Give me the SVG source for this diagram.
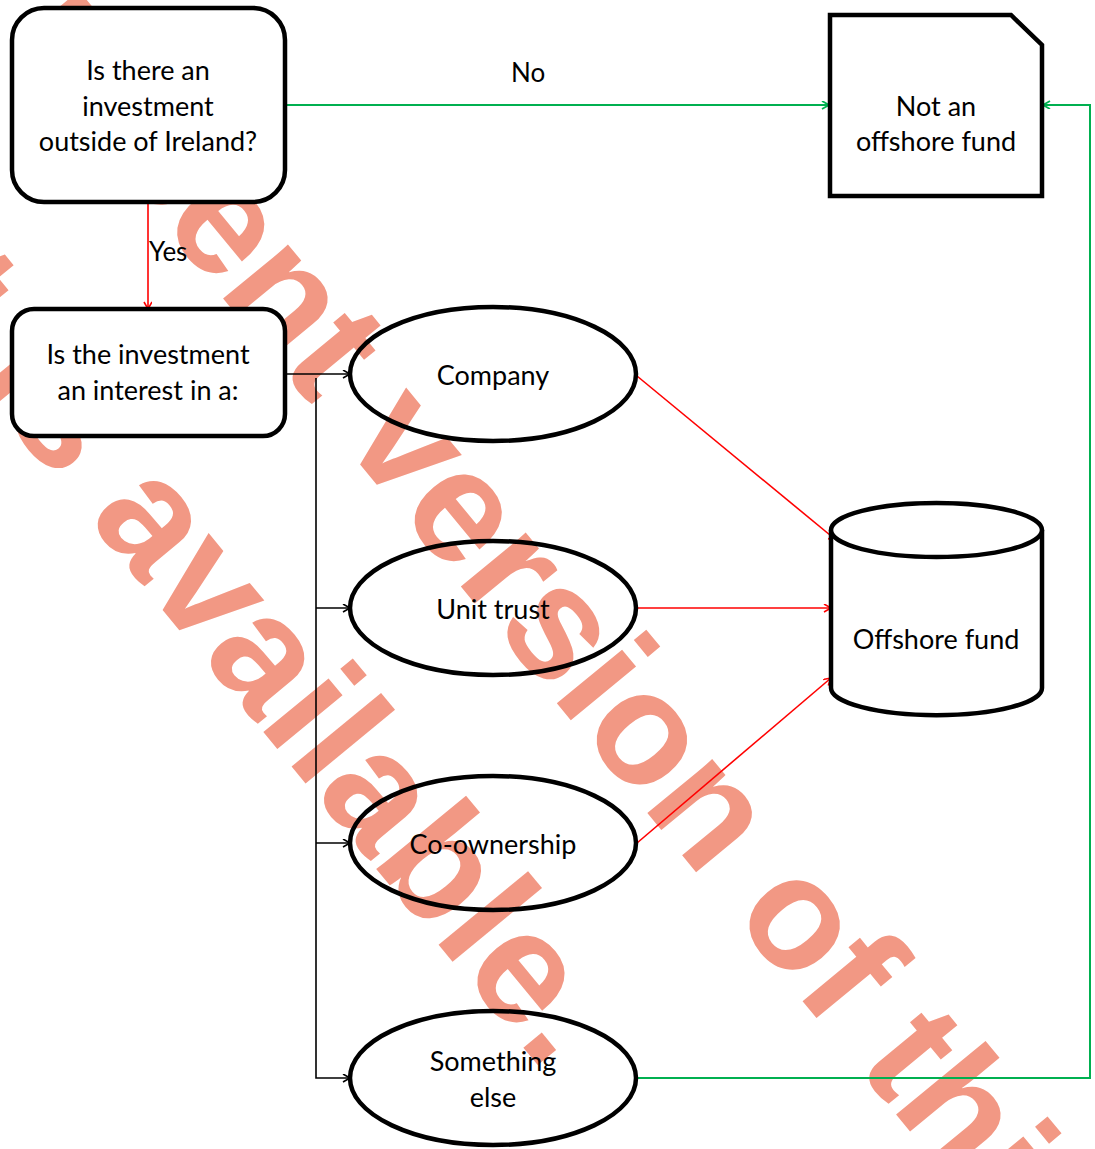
<svg xmlns="http://www.w3.org/2000/svg" width="1095" height="1149" viewBox="0 0 1095 1149">
<style>
.wm{font-family:"Liberation Sans",Arial,sans-serif;font-weight:bold;font-size:160px;fill:#f29884}
.box{fill:#fff;stroke:#000;stroke-width:4.5}
.ell{fill:none;stroke:#000;stroke-width:4.5}
.t{font-family:Lato,"Open Sans",sans-serif;font-size:27px;fill:#000;text-anchor:middle}
.lbl{font-family:Lato,"Open Sans",sans-serif;font-size:26px;fill:#000}
.g{fill:none;stroke:#00b050;stroke-width:2}
.r{fill:none;stroke:#ff0000;stroke-width:1.6}
.k{fill:none;stroke:#000;stroke-width:1.6}
</style>
<defs>
<marker id="ag" markerWidth="10" markerHeight="10" refX="8" refY="4" orient="auto" markerUnits="userSpaceOnUse"><path d="M1,0 L8,4 L1,8" fill="none" stroke="#00b050" stroke-width="1.8"/></marker>
<marker id="ar" markerWidth="10" markerHeight="10" refX="8" refY="4" orient="auto" markerUnits="userSpaceOnUse"><path d="M1,0 L8,4 L1,8" fill="none" stroke="#ff0000" stroke-width="1.6"/></marker>
<marker id="ak" markerWidth="10" markerHeight="10" refX="8" refY="4" orient="auto" markerUnits="userSpaceOnUse"><path d="M1,0 L8,4 L1,8" fill="none" stroke="#000" stroke-width="1.6"/></marker>
</defs>
<g id="watermark">
<g transform="translate(405,453) rotate(50.5)"><text class="wm" x="-1165" y="42">A more recent version of this</text></g>
<g transform="translate(147,525) rotate(50.5)"><text class="wm" x="-1031" y="42">document is available.</text></g>
</g>
<g id="connectors">
<path class="g" d="M285,105 H829" marker-end="url(#ag)"/>
<text class="lbl" x="511" y="82">No</text>
<path class="r" d="M148,202 V309" marker-end="url(#ar)"/>
<text class="lbl" x="149" y="261">Yes</text>
<path class="k" d="M285,374 H350" marker-end="url(#ak)"/>
<path class="k" d="M316,378 V1078 H350" marker-end="url(#ak)"/>
<path class="k" d="M316,608 H350" marker-end="url(#ak)"/>
<path class="k" d="M316,843 H350" marker-end="url(#ak)"/>
<path class="r" d="M637,376 L836,540" marker-end="url(#ar)"/>
<path class="r" d="M637,608 H831" marker-end="url(#ar)"/>
<path class="r" d="M637,843 L831,678" marker-end="url(#ar)"/>
<path class="g" d="M637,1078 H1090 V105 H1043" marker-end="url(#ag)"/>
</g>
<g id="q1">
<rect class="box" x="12" y="8" width="273" height="194" rx="32"/>
<text class="t" x="148" y="80">Is there an</text>
<text class="t" x="148" y="116">investment</text>
<text class="t" x="148" y="151">outside of Ireland?</text>
</g>
<g id="q2">
<rect class="box" x="12" y="309" width="273" height="127" rx="22"/>
<text class="t" x="148" y="364">Is the investment</text>
<text class="t" x="148" y="400">an interest in a:</text>
</g>
<g id="not-offshore">
<path class="box" d="M830,15 H1011 L1042,45 V196 H830 Z"/>
<text class="t" x="936" y="116">Not an</text>
<text class="t" x="936" y="151">offshore fund</text>
</g>
<g id="offshore">
<path class="box" d="M831,530 V688 A105,27 0 0 0 1042,688 V530"/>
<ellipse class="box" cx="936.5" cy="530" rx="105.5" ry="27"/>
<text class="t" x="936" y="649">Offshore fund</text>
</g>
<g id="company">
<ellipse class="ell" cx="493" cy="374" rx="143" ry="67"/>
<text class="t" x="493" y="385">Company</text>
</g>
<g id="unit-trust">
<ellipse class="ell" cx="493" cy="608" rx="143" ry="67"/>
<text class="t" x="493" y="619">Unit trust</text>
</g>
<g id="co-ownership">
<ellipse class="ell" cx="493" cy="843" rx="143" ry="67"/>
<text class="t" x="493" y="854">Co-ownership</text>
</g>
<g id="something-else">
<ellipse class="ell" cx="493" cy="1078" rx="143" ry="67"/>
<text class="t" x="493" y="1071">Something</text>
<text class="t" x="493" y="1107">else</text>
</g>
</svg>
